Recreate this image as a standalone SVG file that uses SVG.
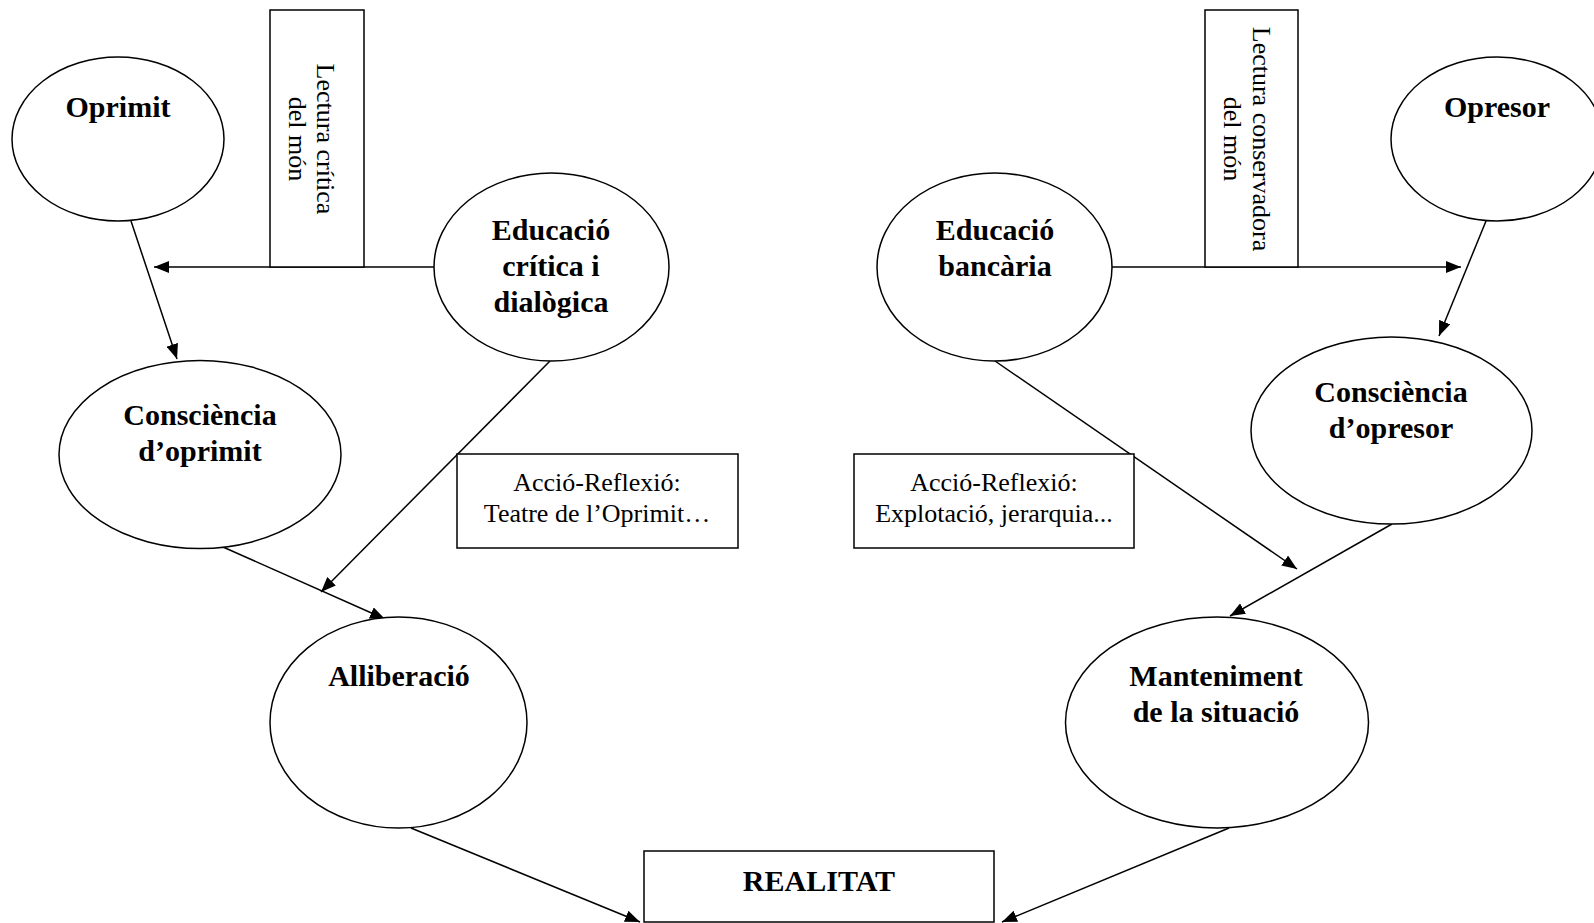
<svg xmlns="http://www.w3.org/2000/svg" width="1594" height="923" viewBox="0 0 1594 923">
  <style>
    .shape { fill: #ffffff; stroke: #000000; stroke-width: 1.5; }
    .link { fill: none; stroke: #000000; stroke-width: 1.5; }
    .bold { font-family: "Liberation Serif", "Times New Roman", serif; font-weight: bold; font-size: 30px; text-anchor: middle; fill: #000000; }
    .plain { font-family: "Liberation Serif", "Times New Roman", serif; font-size: 26px; text-anchor: middle; fill: #000000; }
  </style>
  <defs>
    <marker id="arrow" viewBox="0 0 15 12" refX="15" refY="6" markerWidth="15" markerHeight="12" markerUnits="userSpaceOnUse" orient="auto">
      <path d="M0,0 L15,6 L0,12 z" fill="#000000"/>
    </marker>
  </defs>
  <rect width="1594" height="923" fill="#ffffff"/>

  <!-- connectors -->
  <g id="connectors">
    <line class="link" x1="131" y1="221" x2="177" y2="359" marker-end="url(#arrow)"/>
    <line class="link" x1="434" y1="267" x2="154" y2="267" marker-end="url(#arrow)"/>
    <line class="link" x1="1112" y1="267" x2="1461" y2="267" marker-end="url(#arrow)"/>
    <line class="link" x1="1486" y1="221" x2="1439" y2="336" marker-end="url(#arrow)"/>
    <line class="link" x1="223" y1="547" x2="385" y2="619" marker-end="url(#arrow)"/>
    <line class="link" x1="550" y1="361" x2="321" y2="592" marker-end="url(#arrow)"/>
    <line class="link" x1="995" y1="361" x2="1297" y2="569" marker-end="url(#arrow)"/>
    <line class="link" x1="1392" y1="524" x2="1230" y2="616" marker-end="url(#arrow)"/>
    <line class="link" x1="411" y1="828" x2="640" y2="922" marker-end="url(#arrow)"/>
    <line class="link" x1="1229" y1="828" x2="1002" y2="922" marker-end="url(#arrow)"/>
  </g>

  <!-- left side -->
  <g id="oprimit">
    <ellipse class="shape" cx="118" cy="139" rx="106" ry="82"/>
    <text class="bold" x="118" y="117">Oprimit</text>
  </g>
  <g id="lectura-critica">
    <rect class="shape" x="270" y="10" width="94" height="257"/>
    <text class="plain" transform="translate(317,139) rotate(90)">Lectura crítica</text>
    <text class="plain" transform="translate(289,139) rotate(90)">del món</text>
  </g>
  <g id="educacio-critica">
    <ellipse class="shape" cx="551.5" cy="267" rx="117.5" ry="94"/>
    <text class="bold" x="551" y="240">Educació</text>
    <text class="bold" x="551" y="276">crítica i</text>
    <text class="bold" x="551" y="312">dialògica</text>
  </g>
  <g id="consciencia-oprimit">
    <ellipse class="shape" cx="200" cy="454.5" rx="141" ry="94"/>
    <text class="bold" x="200" y="425">Consciència</text>
    <text class="bold" x="200" y="461">d’oprimit</text>
  </g>
  <g id="accio-oprimit">
    <rect class="shape" x="457" y="454" width="281" height="94"/>
    <text class="plain" x="597" y="491">Acció-Reflexió:</text>
    <text class="plain" x="597" y="522">Teatre de l’Oprimit…</text>
  </g>
  <g id="alliberacio">
    <ellipse class="shape" cx="398.5" cy="722.5" rx="128.5" ry="105.5"/>
    <text class="bold" x="399" y="686">Alliberació</text>
  </g>

  <!-- right side -->
  <g id="opresor">
    <ellipse class="shape" cx="1497" cy="139" rx="106" ry="82"/>
    <text class="bold" x="1497" y="117">Opresor</text>
  </g>
  <g id="lectura-conservadora">
    <rect class="shape" x="1205" y="10" width="93" height="257"/>
    <text class="plain" transform="translate(1253,139) rotate(90)">Lectura conservadora</text>
    <text class="plain" transform="translate(1224,139) rotate(90)">del món</text>
  </g>
  <g id="educacio-bancaria">
    <ellipse class="shape" cx="994.5" cy="267" rx="117.5" ry="94"/>
    <text class="bold" x="995" y="240">Educació</text>
    <text class="bold" x="995" y="276">bancària</text>
  </g>
  <g id="consciencia-opresor">
    <ellipse class="shape" cx="1391.5" cy="430.5" rx="140.5" ry="93.5"/>
    <text class="bold" x="1391" y="402">Consciència</text>
    <text class="bold" x="1391" y="438">d’opresor</text>
  </g>
  <g id="accio-opresor">
    <rect class="shape" x="854" y="454" width="280" height="94"/>
    <text class="plain" x="994" y="491">Acció-Reflexió:</text>
    <text class="plain" x="994" y="522">Explotació, jerarquia...</text>
  </g>
  <g id="manteniment">
    <ellipse class="shape" cx="1217" cy="722.5" rx="151.5" ry="105.5"/>
    <text class="bold" x="1216" y="686">Manteniment</text>
    <text class="bold" x="1216" y="722">de la situació</text>
  </g>

  <!-- bottom -->
  <g id="realitat">
    <rect class="shape" x="644" y="851" width="350" height="71"/>
    <text class="bold" x="819" y="891">REALITAT</text>
  </g>
</svg>
